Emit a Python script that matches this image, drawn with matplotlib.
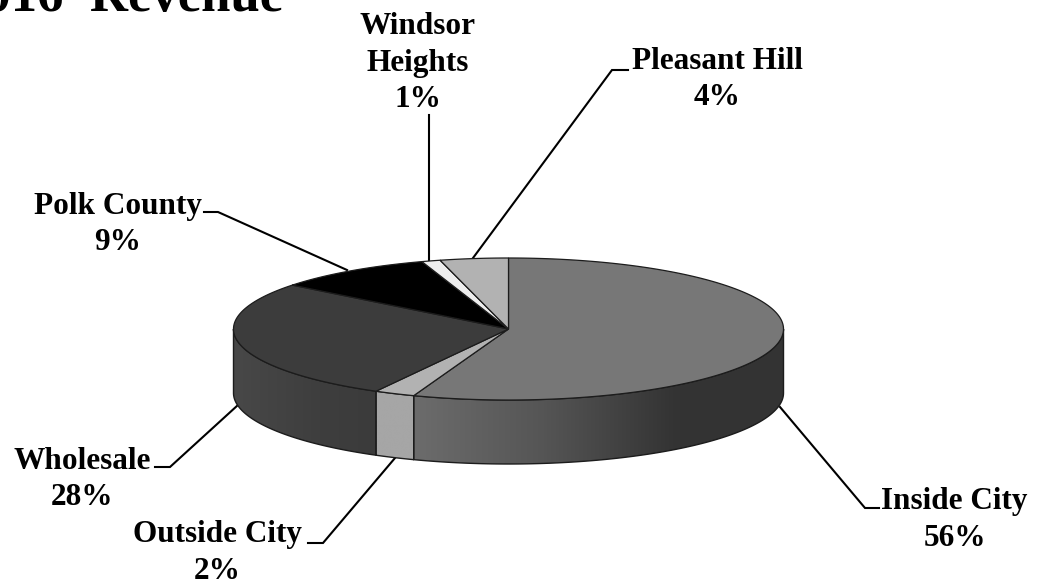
"""Redraw the 2016 revenue share pie as a tilted 3D disc."""

import matplotlib

matplotlib.use("Agg")
import matplotlib.pyplot as plt  # noqa: E402
import numpy as np  # noqa: E402
from matplotlib.colors import LinearSegmentedColormap  # noqa: E402
from matplotlib.patches import Polygon  # noqa: E402

TITLE = "2016  Revenue"
CATEGORIES = ["Inside City", "Outside City", "Wholesale", "Polk County", "Windsor\nHeights", "Pleasant Hill"]
SHARES = [55.6, 2.4, 27.6, 9.3, 1.1, 4.0]
TOP_COLORS = ["#777777", "#b2b2b2", "#3c3c3c", "#000000", "#eeeeee", "#b2b2b2"]
SIDE_COLORS = [
    [(0.0, "#6c6c6c"), (0.35, "#555555"), (0.7, "#343434"), (1.0, "#333333")],
    [(0.0, "#a6a6a6"), (1.0, "#a6a6a6")],
    [(0.0, "#484848"), (0.6, "#3e3e3e"), (1.0, "#3b3b3b")],
]

# label anchor (centre of text block) and leader line, in pixels
LABEL_POS = [(954.5, 520), (217, 553), (82, 479.5), (117.5, 224.5), (417.5, 63), (717, 79.5)]
LEADERS = [
    [(780, 407), (865, 508), (879, 508)],
    [(395, 458), (323, 543), (308, 543)],
    [(238, 405), (170, 467), (155, 467)],
    [(347, 270), (218, 212), (204, 212)],
    [(429, 262), (429, 115)],
    [(473, 258), (612, 70), (628, 70)],
]

CX, CY = 508.5, 329.0
RX, RY = 275.0, 71.0
DEPTH = 64.0
FONT = "Liberation Serif"


def ellipse_xy(theta, dy=0.0):
    return CX + RX * np.sin(theta), CY - RY * np.cos(theta) + dy


def draw_side(ax, t0, t1, stops):
    # only the front half of the rim shows
    t0, t1 = max(t0, np.pi / 2), min(t1, 3 * np.pi / 2)
    if t1 <= t0:
        return
    theta = np.linspace(t0, t1, 120)
    x, y = ellipse_xy(theta)
    xb, yb = ellipse_xy(theta[::-1], DEPTH)
    outline = np.column_stack([np.r_[x, xb], np.r_[y, yb]])
    cmap = LinearSegmentedColormap.from_list("side", stops)
    poly = Polygon(outline, closed=True, facecolor="none", edgecolor="#1c1c1c", linewidth=1.0, zorder=3)
    ax.add_patch(poly)
    left, right = outline[:, 0].min(), outline[:, 0].max()
    im = ax.imshow(
        np.linspace(0, 1, 256)[None, :],
        cmap=cmap,
        vmin=0,
        vmax=1,
        extent=(left, right, outline[:, 1].max(), outline[:, 1].min()),
        aspect="auto",
        zorder=2,
    )
    im.set_clip_path(poly)


def main():
    plt.rcParams["font.family"] = [FONT, "DejaVu Serif"]
    fig = plt.figure(figsize=(10.37, 5.84), dpi=100)
    ax = fig.add_axes((0, 0, 1, 1))

    edges = 2 * np.pi * np.cumsum([0] + SHARES) / sum(SHARES)
    for i, share in enumerate(SHARES):
        t0, t1 = edges[i], edges[i + 1]
        if i < len(SIDE_COLORS):
            draw_side(ax, t0, t1, SIDE_COLORS[i])
        theta = np.linspace(t0, t1, max(int(share * 6), 8))
        x, y = ellipse_xy(theta)
        pts = np.column_stack([np.r_[CX, x], np.r_[CY, y]])
        ax.add_patch(Polygon(pts, closed=True, facecolor=TOP_COLORS[i], edgecolor="#1c1c1c", linewidth=0.9, zorder=4))

    for name, share, pos, leader in zip(CATEGORIES, SHARES, LABEL_POS, LEADERS):
        line = np.array(leader)
        ax.plot(line[:, 0], line[:, 1], color="black", lw=1.5, zorder=1, solid_joinstyle="miter")
        ax.text(
            pos[0],
            pos[1],
            f"{name}\n{share:.0f}%",
            ha="center",
            va="center",
            fontsize=22.5,
            fontweight="bold",
            linespacing=1.36,
            zorder=5,
        )

    ax.text(283, 11, TITLE, ha="right", va="baseline", fontsize=38, fontweight="bold", clip_on=False)

    ax.set_xlim(0, 1037)
    ax.set_ylim(584, 0)
    ax.axis("off")
    fig.savefig("out.png", dpi=100)
    plt.close(fig)


if __name__ == "__main__":
    main()
